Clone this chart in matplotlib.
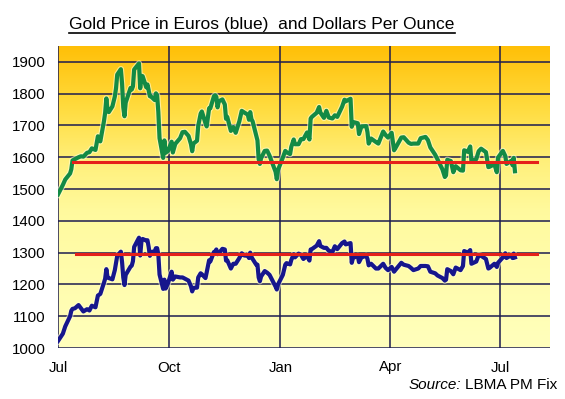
import matplotlib
matplotlib.use("Agg")
import matplotlib.pyplot as plt
import matplotlib.dates as mdates
import matplotlib.patheffects as pe
from matplotlib.colors import LinearSegmentedColormap
from matplotlib.lines import Line2D
import numpy as np
import pandas as pd

plt.rcParams['font.family'] = ['Liberation Sans', 'DejaVu Sans']

dates = [
    "2011-07-01", "2011-07-05", "2011-07-07", "2011-07-11", "2011-07-12", "2011-07-13",
    "2011-07-15", "2011-07-18", "2011-07-20", "2011-07-22", "2011-07-25", "2011-07-27",
    "2011-07-29", "2011-08-01", "2011-08-03", "2011-08-05", "2011-08-08", "2011-08-09",
    "2011-08-10", "2011-08-11", "2011-08-12", "2011-08-15", "2011-08-17", "2011-08-18",
    "2011-08-19", "2011-08-22", "2011-08-23", "2011-08-24", "2011-08-25", "2011-08-26",
    "2011-08-30", "2011-08-31", "2011-09-01", "2011-09-02", "2011-09-05", "2011-09-06",
    "2011-09-07", "2011-09-08", "2011-09-09", "2011-09-12", "2011-09-13", "2011-09-14",
    "2011-09-15", "2011-09-16", "2011-09-19", "2011-09-20", "2011-09-21", "2011-09-22",
    "2011-09-23", "2011-09-26", "2011-09-27", "2011-09-28", "2011-09-30", "2011-10-03",
    "2011-10-04", "2011-10-06", "2011-10-10", "2011-10-12", "2011-10-14", "2011-10-17",
    "2011-10-19", "2011-10-20", "2011-10-21", "2011-10-24", "2011-10-25", "2011-10-27",
    "2011-10-28", "2011-10-31", "2011-11-01", "2011-11-03", "2011-11-04", "2011-11-07",
    "2011-11-08", "2011-11-09", "2011-11-10", "2011-11-11", "2011-11-14", "2011-11-16",
    "2011-11-17", "2011-11-18", "2011-11-21", "2011-11-23", "2011-11-25", "2011-11-28",
    "2011-11-30", "2011-12-02", "2011-12-05", "2011-12-06", "2011-12-07", "2011-12-08",
    "2011-12-09", "2011-12-12", "2011-12-13", "2011-12-14", "2011-12-15", "2011-12-16",
    "2011-12-19", "2011-12-21", "2011-12-23", "2011-12-28", "2011-12-29", "2011-12-30",
    "2012-01-03", "2012-01-05", "2012-01-06", "2012-01-09", "2012-01-10", "2012-01-12",
    "2012-01-13", "2012-01-16", "2012-01-18", "2012-01-20", "2012-01-23", "2012-01-25",
    "2012-01-26", "2012-01-27", "2012-01-31", "2012-02-02", "2012-02-03", "2012-02-06",
    "2012-02-08", "2012-02-10", "2012-02-13", "2012-02-15", "2012-02-17", "2012-02-21",
    "2012-02-23", "2012-02-24", "2012-02-28", "2012-02-29", "2012-03-01", "2012-03-05",
    "2012-03-06", "2012-03-08", "2012-03-12", "2012-03-13", "2012-03-14", "2012-03-16",
    "2012-03-20", "2012-03-22", "2012-03-26", "2012-03-28", "2012-03-30", "2012-04-02",
    "2012-04-04", "2012-04-05", "2012-04-10", "2012-04-12", "2012-04-16", "2012-04-18",
    "2012-04-20", "2012-04-24", "2012-04-26", "2012-04-30", "2012-05-02", "2012-05-04",
    "2012-05-08", "2012-05-10", "2012-05-14", "2012-05-16", "2012-05-17", "2012-05-18",
    "2012-05-21", "2012-05-23", "2012-05-25", "2012-05-29", "2012-05-31", "2012-06-01",
    "2012-06-04", "2012-06-06", "2012-06-07", "2012-06-11", "2012-06-13", "2012-06-15",
    "2012-06-19", "2012-06-21", "2012-06-22", "2012-06-26", "2012-06-28", "2012-06-29",
    "2012-07-03", "2012-07-05", "2012-07-06", "2012-07-10", "2012-07-11", "2012-07-12",
    "2012-07-13",
]

usd = [
    1483, 1513, 1530, 1549, 1562, 1590,
    1594, 1600, 1603, 1602, 1614, 1616,
    1628, 1623, 1666, 1650, 1713, 1740,
    1785, 1747, 1742, 1760, 1791, 1817,
    1860, 1877, 1832, 1757, 1729, 1772,
    1818, 1813, 1823, 1876, 1890, 1895,
    1817, 1856, 1855, 1820, 1829, 1810,
    1792, 1791, 1780, 1801, 1795, 1742,
    1660, 1598, 1653, 1614, 1620, 1649,
    1615, 1642, 1660, 1679, 1680, 1667,
    1641, 1619, 1643, 1652, 1699, 1737,
    1744, 1707, 1697, 1754, 1754, 1792,
    1795, 1790, 1757, 1776, 1782, 1766,
    1721, 1727, 1683, 1695, 1677, 1713,
    1746, 1741, 1734, 1718, 1742, 1720,
    1713, 1668, 1653, 1594, 1579, 1597,
    1620, 1621, 1605, 1554, 1531, 1560,
    1599, 1620, 1616, 1610, 1633, 1656,
    1641, 1641, 1657, 1657, 1678, 1656,
    1722, 1727, 1740, 1758, 1741, 1724,
    1746, 1725, 1722, 1732, 1727, 1759,
    1781, 1776, 1784, 1696, 1711, 1707,
    1673, 1697, 1698, 1679, 1643, 1659,
    1648, 1643, 1681, 1670, 1662, 1677,
    1622, 1628, 1662, 1663, 1646, 1642,
    1643, 1643, 1660, 1664, 1654, 1631,
    1608, 1593, 1562, 1538, 1543, 1592,
    1588, 1553, 1572, 1559, 1558, 1622,
    1617, 1634, 1588, 1594, 1619, 1627,
    1616, 1569, 1570, 1578, 1553, 1599,
    1620, 1604, 1579, 1589, 1575, 1598,
    1556,
]

eur = [
    1022, 1045, 1068, 1100, 1117, 1123,
    1125, 1135, 1125, 1115, 1122, 1118,
    1133, 1128, 1165, 1170, 1205, 1218,
    1248, 1222, 1220, 1216, 1245, 1268,
    1290, 1303, 1270, 1222, 1198, 1230,
    1256, 1259, 1273, 1318, 1340, 1347,
    1291, 1334, 1343, 1338, 1339, 1318,
    1290, 1302, 1304, 1314, 1314, 1294,
    1231, 1186, 1215, 1187, 1204, 1240,
    1215, 1225, 1222, 1222, 1218, 1212,
    1194, 1178, 1189, 1190, 1222, 1235,
    1232, 1220, 1238, 1276, 1272, 1302,
    1303, 1310, 1295, 1298, 1312, 1310,
    1275, 1276, 1250, 1265, 1265, 1283,
    1298, 1291, 1290, 1283, 1300, 1287,
    1280, 1262, 1262, 1222, 1210, 1225,
    1242, 1237, 1230, 1193, 1184, 1200,
    1230, 1262, 1267, 1263, 1277, 1295,
    1285, 1297, 1293, 1280, 1290, 1275,
    1310, 1311, 1322, 1336, 1321, 1315,
    1315, 1306, 1302, 1320, 1311, 1330,
    1335, 1326, 1330, 1268, 1283, 1290,
    1270, 1285, 1290, 1280, 1260, 1265,
    1250, 1250, 1265, 1252, 1245, 1255,
    1240, 1245, 1268, 1262, 1258, 1252,
    1245, 1250, 1258, 1258, 1257, 1240,
    1235, 1228, 1220, 1212, 1215, 1248,
    1242, 1232, 1253, 1245, 1258, 1305,
    1300, 1308, 1265, 1272, 1292, 1290,
    1280, 1250, 1252, 1265, 1255, 1268,
    1285, 1298, 1283, 1292, 1283, 1297,
    1285,
]

usd_avg = 1585
eur_avg = 1297
usd_avg_span = ["2011-07-13", "2012-07-31"]
eur_avg_span = ["2011-07-16", "2012-07-31"]

yticks = list(range(1000, 2000, 100))
xtick_dates = ["2011-07-01", "2011-10-01", "2012-01-01", "2012-04-01", "2012-07-01"]
xtick_labels = ["Jul", "Oct", "Jan", "Apr", "Jul"]

title = "Gold Price in Euros (blue)  and Dollars Per Ounce"

d = pd.to_datetime(dates)
fig = plt.figure(figsize=(5.65, 3.99), dpi=100)
fig.patch.set_facecolor("white")
ax = fig.add_axes([58/565, 1-348/399, (550-58)/565, (348-46)/399])

x0 = mdates.date2num(pd.Timestamp("2011-07-01"))
x1 = mdates.date2num(pd.Timestamp("2012-08-11"))
ymin, ymax = 1000, 1950

cmap = LinearSegmentedColormap.from_list("bg", [
    (0.0, (1.0, 1.0, 0.74)),
    (0.45, (1.0, 0.98, 0.62)),
    (0.62, (1.0, 0.94, 0.48)),
    (0.80, (1.0, 0.86, 0.24)),
    (1.0, (1.0, 0.75, 0.03)),
])
grad = np.linspace(0, 1, 256).reshape(-1, 1)
ax.imshow(grad, cmap=cmap, origin="lower", aspect="auto",
          extent=[x0, x1, ymin, ymax], zorder=0)

grid_color = "#1c1c50"
for yt in yticks:
    ax.axhline(yt, color=grid_color, lw=1.1, zorder=1)
for xt in xtick_dates:
    ax.axvline(mdates.date2num(pd.Timestamp(xt)), color=grid_color, lw=1.1, zorder=1)

halo = [pe.Stroke(linewidth=4.6, foreground=(1.0, 1.0, 0.85), alpha=0.6), pe.Normal()]
ax.plot(d, usd, color="#138a45", lw=3.0, zorder=3, solid_joinstyle="round", path_effects=halo)
ax.plot(d, eur, color="#16168c", lw=3.0, zorder=3, solid_joinstyle="round", path_effects=halo)
ax.plot(pd.to_datetime(usd_avg_span), [usd_avg, usd_avg], color="#e5201a", lw=2.2, zorder=4)
ax.plot(pd.to_datetime(eur_avg_span), [eur_avg, eur_avg], color="#e5201a", lw=2.2, zorder=4)

ax.set_xlim(x0, x1)
ax.set_ylim(ymin, ymax)
ax.set_yticks(yticks)
ax.set_yticklabels([str(v) for v in yticks], fontsize=10.8)
ax.set_xticks([mdates.date2num(pd.Timestamp(t)) for t in xtick_dates])
ax.set_xticklabels(xtick_labels, fontsize=10.8)
ax.tick_params(axis="both", length=0, colors="black")
ax.tick_params(axis="y", pad=9)
ax.tick_params(axis="x", pad=9)
for s in ax.spines.values():
    s.set_visible(False)

t = fig.text(262/565, 1-25/399, title, ha="center", va="center", fontsize=12.5)
fig.canvas.draw()
bb = t.get_window_extent(renderer=fig.canvas.get_renderer())
uy = bb.y0 - 0.5
fig.add_artist(Line2D([bb.x0/565, bb.x1/565], [uy/399, uy/399],
                      transform=fig.transFigure, color="black", lw=1.2))

fig.text(557/565, 1-385/399, "LBMA PM Fix", ha="right", va="center", fontsize=11)
fig.canvas.draw()
src = fig.texts[-1].get_window_extent(renderer=fig.canvas.get_renderer())
fig.text((src.x0 - 4)/565, 1-385/399, "Source:", ha="right", va="center",
         fontsize=11, style="italic")

fig.savefig("out.png", dpi=100)
